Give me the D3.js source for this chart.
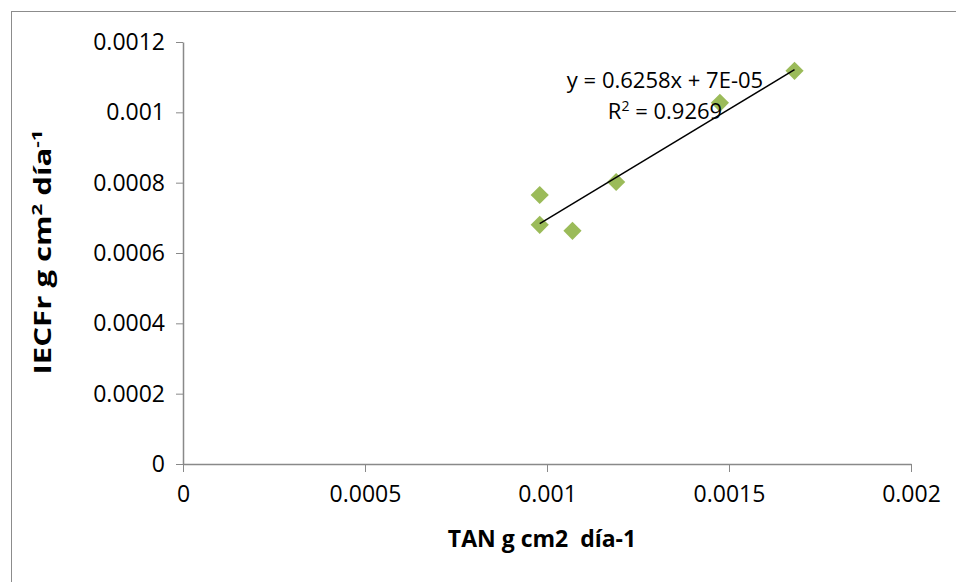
<!DOCTYPE html>
<html>
<head>
  <meta charset="utf-8">
  <script src="https://d3js.org/d3.v7.min.js"></script>
  <style>
    body { margin: 0; background: #fff; }
    .axis path, .axis line { stroke: #898989; }
    .axis text { font-family: "Open Sans", sans-serif; font-size: 23px; fill: #000; }
    .title { font-family: "Open Sans", sans-serif; font-weight: bold; font-size: 23px; }
    .eq { font-family: "Open Sans", sans-serif; font-size: 22px; }
  </style>
</head>
<body>
  <svg id="chart" width="956" height="582"></svg>
  <script>
    // TAN vs IECFr measurements
    const tan = [0.00098, 0.00098, 0.00107, 0.00119, 0.001475, 0.00168];
    const iecfr = [0.000765, 0.00068, 0.000663, 0.000802, 0.001027, 0.001118];
    const xTicks = [0, 0.0005, 0.001, 0.0015, 0.002];
    const yTicks = [0, 0.0002, 0.0004, 0.0006, 0.0008, 0.001, 0.0012];
    // linear trendline
    const slope = 0.6258, intercept = 7e-5;
    const eqLabel = 'y = 0.6258x + 7E-05';
    const r2Label = '0.9269';

    const points = tan.map((t, i) => ({ x: t, y: iecfr[i] }));

    const svg = d3.select('#chart');
    const plotLeft = 183, plotRight = 911, plotTop = 42, plotBottom = 464;

    // outer chart frame
    svg.append('rect')
      .attr('x', 11.5).attr('y', 11.5)
      .attr('width', 960).attr('height', 600)
      .attr('fill', 'none')
      .attr('stroke', '#8c8c8c');

    const x = d3.scaleLinear().domain([0, 0.002]).range([plotLeft, plotRight]);
    const y = d3.scaleLinear().domain([0, 0.0012]).range([plotBottom, plotTop]);

    svg.append('g')
      .attr('class', 'axis')
      .attr('transform', `translate(0, ${plotBottom})`)
      .call(d3.axisBottom(x).tickValues(xTicks).tickFormat(d => String(+d.toFixed(4)))
        .tickSize(8).tickSizeOuter(0).tickPadding(14))
      .call(g => g.select('.domain').attr('stroke-width', 1.5));

    svg.append('g')
      .attr('class', 'axis')
      .attr('transform', `translate(${plotLeft}, 0)`)
      .call(d3.axisLeft(y).tickValues(yTicks).tickFormat(d => String(+d.toFixed(4)))
        .tickSize(7).tickSizeOuter(0).tickPadding(11))
      .call(g => g.select('.domain').attr('stroke-width', 1.5));

    // axis titles
    svg.append('text')
      .attr('class', 'title')
      .attr('x', 542).attr('y', 547)
      .attr('text-anchor', 'middle')
      .attr('xml:space', 'preserve')
      .text('TAN g cm2  día-1');

    const yTitle = svg.append('text')
      .attr('class', 'title')
      .attr('font-size', 25)
      .attr('transform', 'translate(51, 252) rotate(-90)')
      .attr('text-anchor', 'middle')
      .attr('textLength', 245)
      .attr('lengthAdjust', 'spacingAndGlyphs');
    yTitle.append('tspan').text('IECFr g cm');
    yTitle.append('tspan').attr('font-size', 15).attr('dy', -9).text('2');
    yTitle.append('tspan').attr('dy', 9).text(' día');
    yTitle.append('tspan').attr('font-size', 15).attr('dy', -9).text('-1');

    // markers
    svg.selectAll('.pt')
      .data(points)
      .enter()
      .append('path')
      .attr('class', 'pt')
      .attr('d', d3.symbol(d3.symbolSquare, 165))
      .attr('transform', d => `translate(${x(d.x)}, ${y(d.y)}) rotate(45)`)
      .attr('fill', '#9bbb59');

    // trendline over data range
    const [x0, x1] = d3.extent(tan);
    svg.append('line')
      .attr('x1', x(x0)).attr('y1', y(slope * x0 + intercept))
      .attr('x2', x(x1)).attr('y2', y(slope * x1 + intercept))
      .attr('stroke', '#000')
      .attr('stroke-width', 1.5);

    // equation label
    svg.append('text')
      .attr('class', 'eq')
      .attr('x', 665).attr('y', 88)
      .attr('text-anchor', 'middle')
      .text(eqLabel);

    const r2 = svg.append('text')
      .attr('class', 'eq')
      .attr('x', 665).attr('y', 119)
      .attr('text-anchor', 'middle');
    r2.append('tspan').text('R');
    r2.append('tspan').attr('font-size', 14).attr('dy', -8).text('2');
    r2.append('tspan').attr('dy', 8).text(' = ' + r2Label);
  </script>
</body>
</html>
